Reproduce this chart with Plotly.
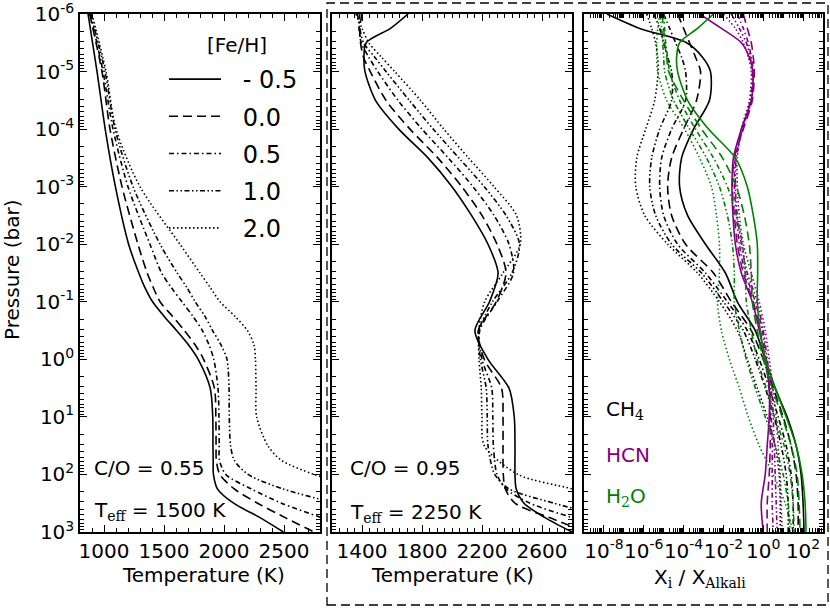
import plotly.graph_objects as go

W, H = 830, 610

# ---------------- data ----------------
FEH = ["- 0.5", "0.0", "0.5", "1.0", "2.0"]

# Panel 1: C/O = 0.55, Teff = 1500 K   (log10 pressure, temperature in K)
P1_LOGP = [-6, -5, -4, -3, -2, -1.5, -1.25, -1, -0.75, -0.5, -0.25, 0, 0.5, 1, 1.5, 1.75, 2, 2.25, 2.5, 2.75, 3]
T1_M05 = [867, 942, 1010, 1095, 1205, 1290, 1340, 1405, 1500, 1605, 1705, 1785, 1885, 1906, 1908, 1910, 1912, 1945, 2080, 2300, 2495]
T1_P00 = [880, 983, 1050, 1150, 1283, 1360, 1410, 1467, 1570, 1670, 1760, 1830, 1920, 1932, 1934, 1936, 1965, 2085, 2280, 2510, 2750]
T1_P05 = [885, 992, 1075, 1200, 1383, 1480, 1560, 1650, 1740, 1820, 1875, 1915, 1950, 1958, 1960, 1962, 2015, 2225, 2480, 2810, 3150]
T1_P10 = [890, 1008, 1092, 1242, 1467, 1610, 1690, 1760, 1840, 1905, 1975, 2025, 2042, 2044, 2055, 2085, 2200, 2490, 2920, 3300, 3650]
T1_P20 = [900, 1017, 1100, 1300, 1633, 1800, 1885, 1967, 2090, 2195, 2250, 2262, 2267, 2272, 2365, 2475, 2750, 3150, 3450, 3750, 4000]

# Panel 2: C/O = 0.95, Teff = 2250 K
P2_LOGP = [-6, -5.75, -5.5, -5.25, -5, -4.5, -4, -3.5, -3, -2.5, -2, -1.5, -1, -0.5,
           0, 0.5, 1, 1.5, 2, 2.25, 2.5, 2.75, 3]
T2_M05 = [1707, 1590, 1428, 1413, 1420, 1490, 1645, 1840, 2000, 2130, 2240, 2307, 2250, 2153,
          2240, 2380, 2415, 2420, 2420, 2428, 2480, 2620, 2800]
T2_P00 = [1400, 1385, 1390, 1410, 1455, 1560, 1720, 1905, 2065, 2200, 2300, 2360, 2295, 2175,
          2215, 2330, 2340, 2340, 2342, 2355, 2420, 2650, 2900]
T2_P05 = [1385, 1380, 1395, 1445, 1505, 1640, 1800, 1975, 2140, 2280, 2380, 2410, 2300, 2185,
          2200, 2265, 2272, 2276, 2300, 2360, 2520, 2800, 3100]
T2_P10 = [1370, 1385, 1410, 1485, 1560, 1715, 1875, 2045, 2215, 2360, 2450, 2400, 2270, 2180,
          2190, 2228, 2235, 2240, 2285, 2380, 2680, 3050, 3400]
T2_P20 = [1360, 1400, 1445, 1530, 1618, 1790, 1945, 2110, 2280, 2430, 2455, 2340, 2218, 2178,
          2180, 2195, 2200, 2215, 2440, 2800, 3150, 3500, 3800]

# Panel 3: log10 of X_i / X_Alkali
P3_LOGP = [-6, -5.75, -5.5, -5.25, -5, -4.5, -4, -3.5, -3, -2.5, -2, -1.5, -1, -0.5,
           0, 0.5, 1, 1.5, 2, 2.5, 3]
CH4_M05 = [-7.85, -6.2, -3.85, -3.05, -2.65, -2.7, -3.5, -4.1, -4.2, -3.8, -2.9, -1.9, -1.3, -0.4,
           0.1, 0.6, 1.2, 1.65, 1.9, 2.0, 2.05]
CH4_P00 = [-4.3, -4.0, -3.7, -3.4, -3.15, -3.35, -4.0, -4.6, -4.8, -4.6, -3.9, -2.5, -1.6, -0.6,
           0.0, 0.5, 1.0, 1.4, 1.65, 1.75, 1.75]
CH4_P05 = [-5.0, -4.7, -4.4, -4.1, -3.9, -3.9, -4.6, -5.1, -5.2, -5.0, -4.3, -2.9, -1.8, -0.8,
           -0.2, 0.3, 0.75, 1.15, 1.4, 1.5, 1.5]
CH4_P10 = [-5.5, -5.2, -5.0, -4.8, -4.6, -4.6, -5.2, -5.6, -5.7, -5.4, -4.6, -3.1, -2.0, -1.0,
           -0.4, 0.1, 0.55, 0.9, 1.15, 1.25, 1.25]
CH4_P20 = [-5.85, -5.6, -5.4, -5.3, -5.28, -5.45, -5.9, -6.35, -6.4, -5.95, -4.8, -3.3, -2.2, -1.3,
           -0.8, -0.3, 0.2, 0.6, 0.8, 0.85, 0.85]

HCN_M05 = [-3.2, -2.1, -1.1, -0.7, -0.52, -0.6, -1.1, -1.5, -1.57, -1.52, -1.4, -1.1, -0.55, -0.2,
           0.1, 0.3, 0.3, 0.2, 0.1, -0.1, 0.0]
HCN_P00 = [-1.0, -0.8, -0.6, -0.5, -0.45, -0.55, -1.0, -1.45, -1.55, -1.45, -1.3, -1.0, -0.5, -0.15,
           0.1, 0.3, 0.35, 0.35, 0.3, 0.2, 0.2]
HCN_P05 = [-1.3, -1.0, -0.75, -0.6, -0.5, -0.6, -1.05, -1.4, -1.45, -1.35, -1.2, -0.9, -0.4, -0.05,
           0.15, 0.35, 0.4, 0.45, 0.45, 0.45, 0.5]
HCN_P10 = [-1.6, -1.2, -0.85, -0.65, -0.55, -0.65, -1.05, -1.35, -1.4, -1.3, -1.1, -0.8, -0.3, 0.0,
           0.2, 0.4, 0.5, 0.55, 0.6, 0.65, 0.7]
HCN_P20 = [-2.0, -1.4, -1.0, -0.75, -0.6, -0.7, -1.1, -1.3, -1.3, -1.2, -1.0, -0.6, -0.2, 0.1,
           0.3, 0.5, 0.65, 0.75, 0.85, 0.9, 0.95]

H2O_M05 = [-2.5, -3.3, -4.2, -4.35, -4.3, -3.8, -2.75, -1.4, -0.8, -0.5, -0.3, -0.28, -0.3, -0.15,
           0.1, 0.6, 1.15, 1.65, 1.95, 2.1, 2.15]
H2O_P00 = [-5.1, -5.0, -4.95, -4.85, -4.75, -4.0, -3.1, -2.05, -1.35, -0.95, -0.7, -0.6, -0.55, -0.3,
           0.0, 0.45, 0.95, 1.4, 1.7, 1.8, 1.85]
H2O_P05 = [-5.0, -4.95, -4.9, -4.8, -4.7, -4.2, -3.4, -2.5, -1.8, -1.35, -1.05, -0.9, -0.85, -0.6,
           -0.3, 0.15, 0.6, 1.05, 1.35, 1.5, 1.55]
H2O_P10 = [-5.2, -5.1, -5.05, -5.0, -4.95, -4.5, -3.7, -2.85, -2.2, -1.8, -1.55, -1.45, -1.45, -1.2,
           -0.85, -0.4, 0.1, 0.6, 1.0, 1.25, 1.35]
H2O_P20 = [-5.2, -5.3, -5.35, -5.35, -5.3, -4.85, -3.95, -3.2, -2.6, -2.35, -2.2, -2.2, -2.3, -2.1,
           -1.7, -1.2, -0.75, -0.2, 0.5, 1.1, 1.5]

# ---------------- styles ----------------
DASHES = ["solid", "9px,5px", "5px,3px,1.5px,3px", "5px,2.5px,1.5px,2.5px,1.5px,2.5px", "1.5px,2.5px"]
BLACK, PURPLE, GREEN = "#000000", "#800080", "#008000"
FONT = "DejaVu Sans"
SERIF = "DejaVu Serif"
LW = 1.6
LEG_PAD = "\u2002\u2009"


def fx(p):
    return p / W


def fy(p):
    return 1 - p / H


fig = go.Figure()

p1 = [T1_M05, T1_P00, T1_P05, T1_P10, T1_P20]
for i, t in enumerate(p1):
    fig.add_trace(go.Scatter(
        x=t, y=[10.0 ** v for v in P1_LOGP], mode="lines", name=LEG_PAD + FEH[i],
        legendgroup=f"g{i}", showlegend=True,
        line=dict(color=BLACK, width=LW, dash=DASHES[i], shape="spline", smoothing=0.8),
        xaxis="x", yaxis="y"))

p2 = [T2_M05, T2_P00, T2_P05, T2_P10, T2_P20]
for i, t in enumerate(p2):
    fig.add_trace(go.Scatter(
        x=t, y=[10.0 ** v for v in P2_LOGP], mode="lines", showlegend=False,
        line=dict(color=BLACK, width=LW, dash=DASHES[i], shape="spline", smoothing=0.8),
        xaxis="x2", yaxis="y2"))

species = [
    ([CH4_M05, CH4_P00, CH4_P05, CH4_P10, CH4_P20], BLACK),
    ([HCN_M05, HCN_P00, HCN_P05, HCN_P10, HCN_P20], PURPLE),
    ([H2O_M05, H2O_P00, H2O_P05, H2O_P10, H2O_P20], GREEN),
]
for series, col in species:
    for i, lx in enumerate(series):
        fig.add_trace(go.Scatter(
            x=[10.0 ** v for v in lx], y=[10.0 ** v for v in P3_LOGP], mode="lines",
            showlegend=False,
            line=dict(color=col, width=LW, dash=DASHES[i], shape="spline", smoothing=0.8),
            xaxis="x3", yaxis="y3"))

# ---------------- axes ----------------
common = dict(showline=True, linecolor="black", linewidth=1.5, mirror="allticks",
              ticks="inside", ticklen=7, tickwidth=1.2, tickcolor="black",
              showgrid=False, zeroline=False, tickangle=0, automargin=False,
              tickfont=dict(family=FONT, size=20, color="black"))

ydom = [fy(532), fy(14)]
ytv = [10.0 ** e for e in range(-6, 4)]
ytt = [f"10<sup>{e}</sup>" for e in range(-6, 4)]
ymin = [k * 10.0 ** e for e in range(-6, 3) for k in range(2, 10)]
yminor = dict(tickmode="array", tickvals=ymin, ticks="inside", ticklen=4, tickcolor="black", tickwidth=1)

for j, (anc, show) in enumerate([("x", True), ("x2", False), ("x3", False)]):
    key = "yaxis" if j == 0 else f"yaxis{j+1}"
    fig.layout[key] = dict(common, type="log", range=[3, -6], domain=ydom, anchor=anc,
                           tickmode="array", tickvals=ytv, ticktext=ytt,
                           showticklabels=show, minor=yminor)

fig.layout.xaxis = dict(common, range=[800, 2800], domain=[fx(80), fx(320)], anchor="y",
                        tickmode="array", tickvals=[1000, 1500, 2000, 2500],
                        minor=dict(tickmode="linear", tick0=800, dtick=100, ticks="inside",
                                   ticklen=4, tickcolor="black", tickwidth=1))
fig.layout.xaxis2 = dict(common, range=[1200, 2800], domain=[fx(332), fx(572)], anchor="y2",
                         tickmode="array", tickvals=[1400, 1800, 2200, 2600],
                         minor=dict(tickmode="linear", tick0=1200, dtick=50, ticks="inside",
                                    ticklen=4, tickcolor="black", tickwidth=1))
xtv3 = [10.0 ** e for e in range(-8, 3, 2)]
xtt3 = [f"10<sup>{e}</sup>" for e in range(-8, 3, 2)]
xmin3 = [k * 10.0 ** e for e in range(-9, 3) for k in range(1, 10) if not (k == 1 and e % 2 == 0)]
fig.layout.xaxis3 = dict(common, type="log", range=[-9, 3], domain=[fx(584), fx(823)], anchor="y3",
                         tickmode="array", tickvals=xtv3, ticktext=xtt3,
                         minor=dict(tickmode="array", tickvals=xmin3, ticks="inside",
                                    ticklen=4, tickcolor="black", tickwidth=1))

# ---------------- text ----------------
ann = []


def add_text(txt, x, y, size=20, color="black", xanchor="center", angle=0):
    ann.append(dict(text=txt, x=fx(x), y=fy(y), xref="paper", yref="paper", showarrow=False,
                    xanchor=xanchor, yanchor="middle", textangle=angle,
                    font=dict(family=FONT, size=size, color=color)))


add_text("Pressure (bar)", 12, 270, angle=-90)
add_text("Temperature (K)", 203, 575)
add_text("Temperature (K)", 452, 575)
add_text(f"X<sub><span style='font-family:{SERIF}'>i</span></sub> / X<sub><span style='font-family:{SERIF}'>Alkali</span></sub>", 700, 578)
add_text("[Fe/H]", 237, 45)
add_text("C/O = 0.55", 92, 468, xanchor="left")
add_text(f"T<sub><span style='font-family:{SERIF}'>eff</span></sub> = 1500 K", 92, 511, xanchor="left")
add_text("C/O = 0.95", 348, 468, xanchor="left")
add_text(f"T<sub><span style='font-family:{SERIF}'>eff</span></sub> = 2250 K", 348, 513, xanchor="left")
add_text(f"CH<sub><span style='font-family:{SERIF}'>4</span></sub>", 604, 410, xanchor="left")
add_text("HCN", 604, 455, color=PURPLE, xanchor="left")
add_text(f"H<sub><span style='font-family:{SERIF}'>2</span></sub>O", 604, 497, color=GREEN, xanchor="left")

fig.update_layout(
    width=W, height=H, margin=dict(l=0, r=0, t=0, b=0, pad=0, autoexpand=False),
    paper_bgcolor="white", plot_bgcolor="white",
    font=dict(family=FONT, size=20, color="black"),
    annotations=ann,
    showlegend=True,
    legend=dict(x=fx(164), y=fy(57), xanchor="left", yanchor="top",
                bgcolor="rgba(0,0,0,0)", borderwidth=0,
                font=dict(family=FONT, size=24, color="black"),
                itemwidth=52, tracegroupgap=3, traceorder="grouped"),
    shapes=[dict(type="rect", xref="paper", yref="paper",
                 x0=fx(327), x1=fx(828), y0=fy(605), y1=fy(3),
                 line=dict(color="black", width=1.3, dash="9px,5px"))],
)

fig.write_html("out.html", config={"displayModeBar": False},
               post_script="document.body.style.margin='0';document.body.style.padding='0';")
